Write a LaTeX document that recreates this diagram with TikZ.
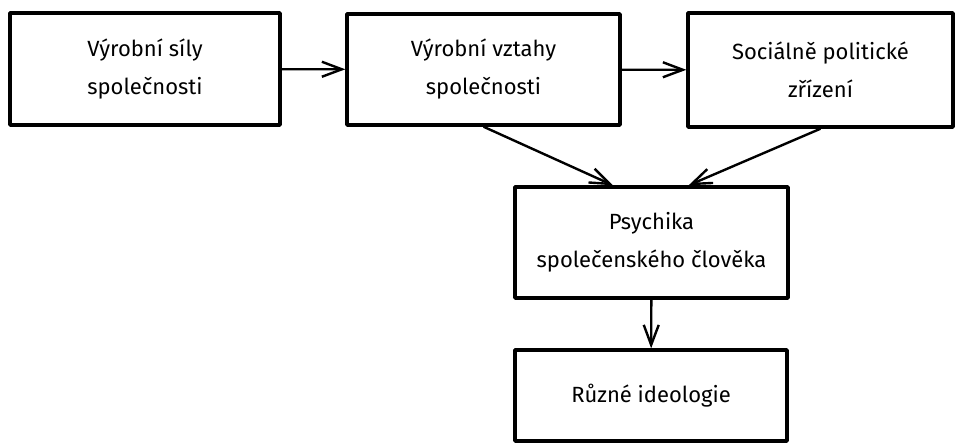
\documentclass[tikz,border=0pt]{standalone}
\usepackage{fontspec}
\setmainfont{Fira Sans}
\usetikzlibrary{arrows.meta}
\tikzset{
  blok/.style={draw=black,line width=3.4bp,rectangle,inner sep=0pt,align=center,font=\fontsize{22bp}{38bp}\selectfont},
  sipka/.style={black,line width=2.4bp,-{Straight Barb[length=20bp,width=15bp,line width=2.4bp]}}
}
\begin{document}
\begin{tikzpicture}[line join=bevel,]
%%
\useasboundingbox (0bp,0bp) rectangle (957bp,-444bp);
\node (sily) at (145bp,-69bp) [blok,minimum width=270bp,minimum height=112bp] {Výrobní síly\\společnosti};
  \node (vztahy) at (483.5bp,-69.5bp) [blok,minimum width=273bp,minimum height=111bp] {Výrobní vztahy\\společnosti};
  \node (zrizeni) at (820.5bp,-70bp) [blok,minimum width=265bp,minimum height=114bp] {Sociálně politické\\zřízení};
  \node (psychika) at (651.5bp,-242.5bp) [blok,minimum width=273bp,minimum height=111bp] {Psychika\\společenského člověka};
  \node (ideologie) at (651bp,-395.5bp) [blok,minimum width=272bp,minimum height=91bp] {Různé ideologie};
  \draw [sipka] (sily) -- (vztahy);
  \draw [sipka] (vztahy) -- (zrizeni);
  \draw [sipka] (vztahy.south) -- (psychika.124);
  \draw [sipka] (zrizeni.south) -- (psychika.57);
  \draw [sipka] (psychika) -- (ideologie);
%
\end{tikzpicture}
\end{document}
